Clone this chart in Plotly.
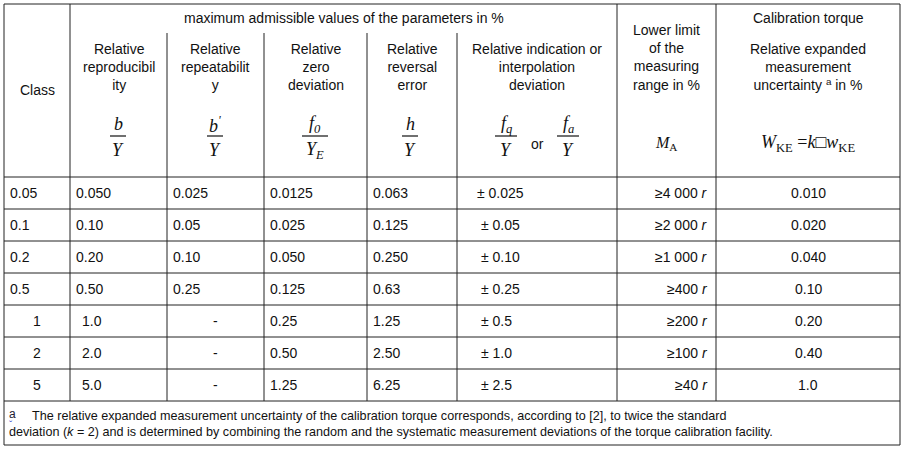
import plotly.graph_objects as go

classes = ["0.05", "0.1", "0.2", "0.5", "1", "2", "5"]
reproducibility = ["0.050", "0.10", "0.20", "0.50", "1.0", "2.0", "5.0"]
repeatability = ["0.025", "0.05", "0.10", "0.25", "-", "-", "-"]
zero_dev = ["0.0125", "0.025", "0.050", "0.125", "0.25", "0.50", "1.25"]
reversal = ["0.063", "0.125", "0.250", "0.63", "1.25", "2.50", "6.25"]
indication = ["± 0.025", "± 0.05", "± 0.10", "± 0.25", "± 0.5", "± 1.0", "± 2.5"]
lower_limit = ["≥4 000", "≥2 000", "≥1 000", "≥400", "≥200", "≥100", "≥40"]
uncertainty = ["0.010", "0.020", "0.040", "0.10", "0.20", "0.40", "1.0"]

col_edges = [4, 70, 167, 264, 367, 457, 617, 716, 900]
row_edges = [177, 209, 241, 273, 305, 337, 369, 401]
top, bottom, sub_top = 4, 445, 33

F = "Liberation Sans, Arial, sans-serif"
S = "Liberation Serif, Times New Roman, serif"
fig = go.Figure()
shapes = []
ann = []
def line(x0, y0, x1, y1):
    shapes.append(dict(type="line", x0=x0, y0=y0, x1=x1, y1=y1, xref="x", yref="y",
                       line=dict(color="#222", width=1)))
def text(x, y, t, anchor="center", size=14, font=F, color="#111"):
    ann.append(dict(x=x, y=y, text=t, showarrow=False, xanchor=anchor, yanchor="middle",
                    xref="x", yref="y", font=dict(family=font, size=size, color=color)))

line(col_edges[0], top, col_edges[-1], top)
line(col_edges[0], bottom, col_edges[-1], bottom)
line(col_edges[0], top, col_edges[0], bottom)
line(col_edges[-1], top, col_edges[-1], bottom)
for y in row_edges:
    line(col_edges[0], y, col_edges[-1], y)
for i, x in enumerate(col_edges[1:-1], start=1):
    y0 = sub_top if i in (2, 3, 4, 5) else top
    line(x, y0, x, row_edges[-1])

text((col_edges[1] + col_edges[6]) / 2, 18, "maximum admissible values of the parameters in %")
text(37, 90, "Class")
hdr = ["Relative<br>reproducibil<br>ity", "Relative<br>repeatabilit<br>y", "Relative<br>zero<br>deviation",
       "Relative<br>reversal<br>error", "Relative indication or<br>interpolation<br>deviation"]
for i, h in enumerate(hdr):
    text((col_edges[i + 1] + col_edges[i + 2]) / 2, 67, h)
text(666, 57, "Lower limit<br>of the<br>measuring<br>range in %")
text(808, 18, "Calibration torque")
text(808, 67, "Relative expanded<br>measurement<br>uncertainty <sup>a</sup> in %")

def frac(cx, num, den, w=16):
    text(cx, 124, "<i>" + num + "</i>", font=S, size=18)
    shapes.append(dict(type="line", x0=cx - w / 2, x1=cx + w / 2, y0=136, y1=136, xref="x", yref="y",
                       line=dict(color="#111", width=1.2)))
    text(cx, 150, "<i>" + den + "</i>", font=S, size=18)
frac(118, "b", "Y")
frac(215, "b<sup>'</sup>", "Y")
frac(315, "f<sub>0</sub>", "Y<sub>E</sub>", 26)
frac(410, "h", "Y")
frac(506, "f<sub>q</sub>", "Y", 22)
text(537, 144, "or")
frac(568, "f<sub>a</sub>", "Y", 22)
text(666, 143, "<i>M</i><sub>A</sub>", font=S, size=16)
text(808, 143, "<i>W</i><sub>KE</sub> =<i>k</i>□<i>w</i><sub>KE</sub>", font=S, size=18)

cols = [classes, reproducibility, repeatability, zero_dev, reversal]
for r in range(len(classes)):
    yc = (row_edges[r] + row_edges[r + 1]) / 2
    for c, arr in enumerate(cols):
        v = arr[r]
        if v == "-" or (c == 0 and r >= 4):
            text((col_edges[c] + col_edges[c + 1]) / 2, yc, v)
        elif c == 1 and r >= 4:
            text(col_edges[c] + 10, yc, v, anchor="left")
        else:
            text(col_edges[c] + 4, yc, v, anchor="left")
    text(col_edges[5] + 18 + (4 if r else 0), yc, indication[r], anchor="left")
    text(col_edges[7] - 6, yc, lower_limit[r] + " <i>r</i>", anchor="right")
    text((col_edges[7] + col_edges[8]) / 2, yc, uncertainty[r])

text(7, 414, "a", anchor="left", size=12, color="#223")
text(7, 425, "<span style='color:#3344cc'>ˇ</span>", anchor="left", size=10)
text(30, 416, "The relative expanded measurement uncertainty of the calibration torque corresponds, according to [2], to twice the standard",
     anchor="left", size=12.6)
text(7, 432, "deviation (<i>k</i> = 2) and is determined by combining the random and the systematic measurement deviations of the torque calibration facility.",
     anchor="left", size=12.6)

fig.update_layout(width=904, height=449, margin=dict(l=0, r=0, t=0, b=0),
                  paper_bgcolor="white", plot_bgcolor="white", shapes=shapes, annotations=ann,
                  xaxis=dict(range=[0, 904], visible=False, fixedrange=True),
                  yaxis=dict(range=[449, 0], visible=False, fixedrange=True), showlegend=False)
fig.write_html("out.html", config={"displayModeBar": False},
               post_script="document.body.style.margin='0';document.body.style.overflow='hidden';")
